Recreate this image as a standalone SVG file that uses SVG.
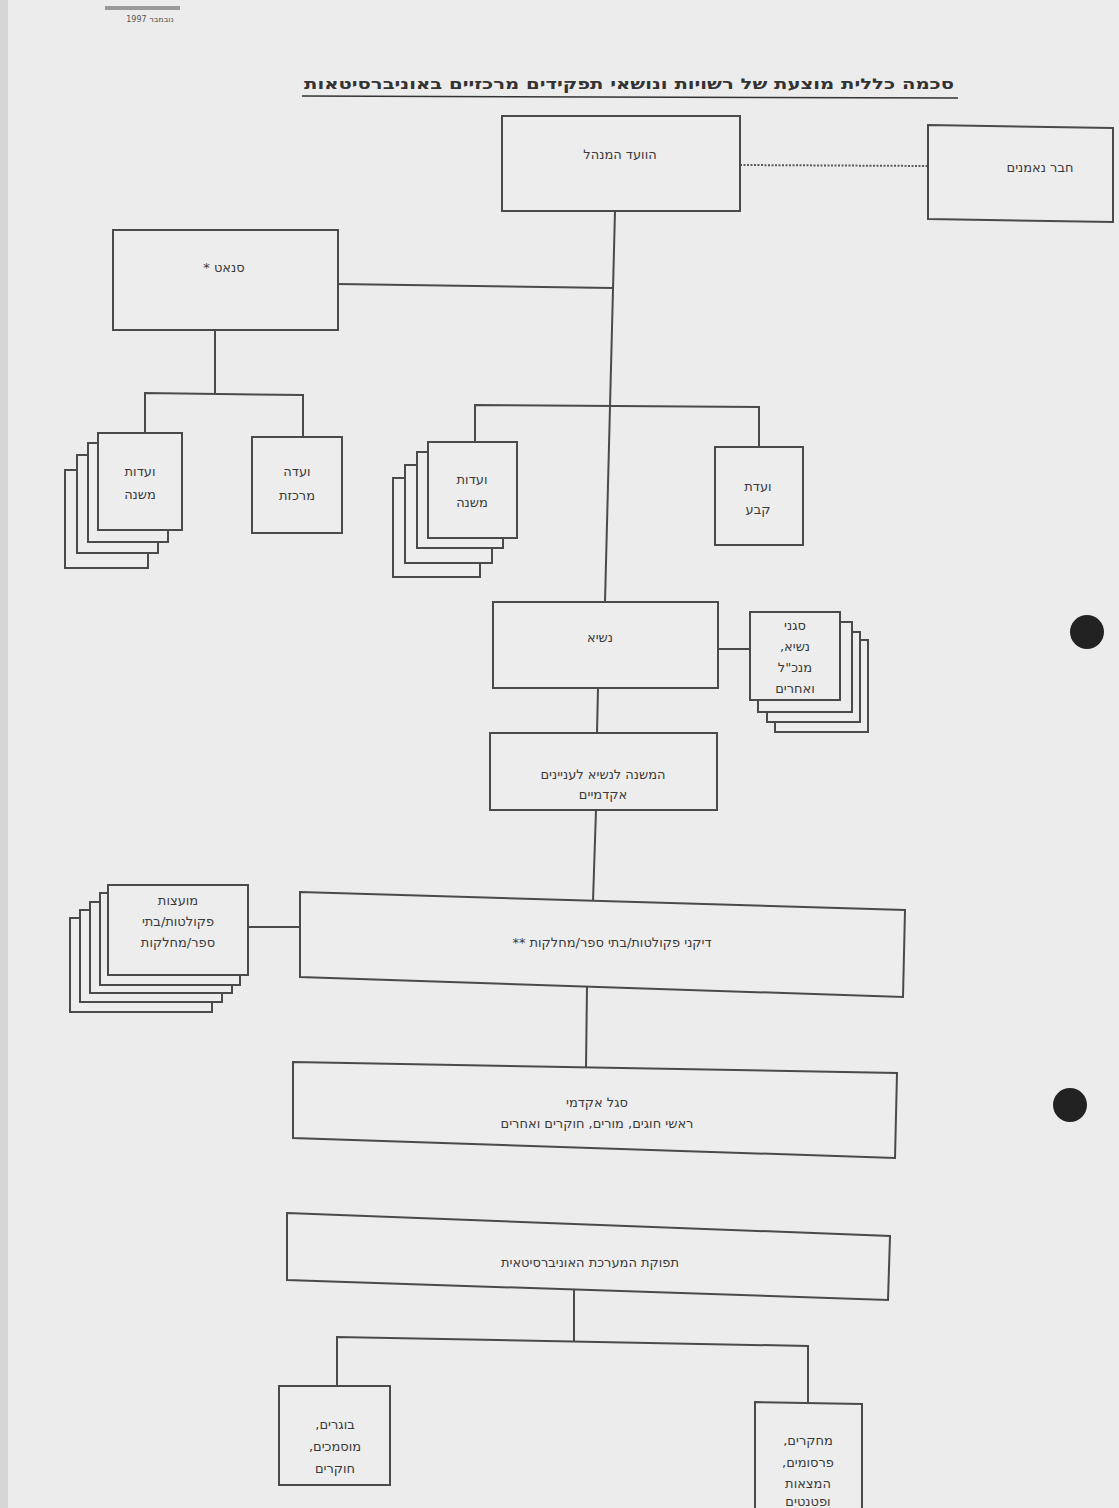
<svg xmlns="http://www.w3.org/2000/svg" width="1119" height="1508" viewBox="0 0 1119 1508">
<style>
.bx{fill:#ededed;stroke:#4a4a4a;stroke-width:2}
.ln{fill:none;stroke:#4a4a4a;stroke-width:2}
.dot{fill:none;stroke:#5a5a5a;stroke-width:2;stroke-dasharray:2 1.5}
.t{font-family:"DejaVu Sans","Liberation Sans",sans-serif;font-size:13px;fill:#3a3a3a;text-anchor:middle;direction:rtl}
.ttl{font-family:"DejaVu Sans","Liberation Sans",sans-serif;font-size:15px;font-weight:bold;fill:#333;text-anchor:middle;direction:rtl}
.sm{font-family:"DejaVu Sans","Liberation Sans",sans-serif;font-size:8px;fill:#555;text-anchor:middle;direction:rtl}
</style>
<rect x="0" y="0" width="1119" height="1508" fill="#ececec"/>
<rect x="0" y="0" width="8" height="1508" fill="#d6d6d6"/>
<g id="header">
<rect x="105" y="6" width="75" height="4" fill="#9a9a9a"/>
<text class="sm" x="150" y="22">נובמבר 1997</text>
<text class="ttl" x="629" y="89" textLength="650" lengthAdjust="spacingAndGlyphs">סכמה כללית מוצעת של רשויות ונושאי תפקידים מרכזיים באוניברסיטאות</text>
<line x1="302" y1="96" x2="958" y2="98" stroke="#333" stroke-width="1.5"/>
</g>
<g id="holes">
<circle cx="1087" cy="632" r="17" fill="#222"/>
<circle cx="1070" cy="1105" r="17" fill="#222"/>
</g>
<g id="connectors">
<line class="dot" x1="740" y1="165" x2="928" y2="166"/>
<polyline class="ln" points="615,211 605,602"/>
<line class="ln" x1="338" y1="284" x2="613" y2="288"/>
<line class="ln" x1="215" y1="330" x2="215" y2="393"/>
<polyline class="ln" points="145,433 145,393 303,395 303,437"/>
<polyline class="ln" points="475,442 475,405 759,407 759,447"/>
<line class="ln" x1="718" y1="649" x2="750" y2="649"/>
<line class="ln" x1="598" y1="688" x2="597" y2="733"/>
<line class="ln" x1="596" y1="810" x2="593" y2="901"/>
<line class="ln" x1="300" y1="927" x2="248" y2="927"/>
<line class="ln" x1="587" y1="987" x2="586" y2="1067"/>
<line class="ln" x1="574" y1="1290" x2="574" y2="1341"/>
<polyline class="ln" points="337,1386 337,1337 808,1346 808,1402"/>
</g>
<g id="board">
<rect class="bx" x="502" y="116" width="238" height="95"/>
<text class="t" x="620" y="159">הוועד המנהל</text>
</g>
<g id="trustees">
<path class="bx" d="M928,125 L1113,128 L1113,222 L928,219 Z"/>
<text class="t" x="1040" y="172">חבר נאמנים</text>
</g>
<g id="senate">
<rect class="bx" x="113" y="230" width="225" height="100"/>
<text class="t" x="224" y="272">סנאט *</text>
</g>
<g id="senate-subcommittees">
<rect class="bx" x="65" y="470" width="83" height="98"/>
<rect class="bx" x="77" y="455" width="81" height="98"/>
<rect class="bx" x="88" y="443" width="80" height="99"/>
<rect class="bx" x="98" y="433" width="84" height="97"/>
<text class="t" x="140" y="476">ועדות</text>
<text class="t" x="140" y="499">משנה</text>
</g>
<g id="coordinating-committee">
<rect class="bx" x="252" y="437" width="90" height="96"/>
<text class="t" x="297" y="476">ועדה</text>
<text class="t" x="297" y="500">מרכזת</text>
</g>
<g id="board-subcommittees">
<rect class="bx" x="393" y="478" width="87" height="99"/>
<rect class="bx" x="405" y="465" width="87" height="98"/>
<rect class="bx" x="417" y="452" width="86" height="96"/>
<rect class="bx" x="428" y="442" width="89" height="96"/>
<text class="t" x="472" y="484">ועדות</text>
<text class="t" x="472" y="507">משנה</text>
</g>
<g id="standing-committee">
<rect class="bx" x="715" y="447" width="88" height="98"/>
<text class="t" x="758" y="491">ועדת</text>
<text class="t" x="758" y="514">קבע</text>
</g>
<g id="president">
<rect class="bx" x="493" y="602" width="225" height="86"/>
<text class="t" x="600" y="642">נשיא</text>
</g>
<g id="vice-presidents">
<rect class="bx" x="775" y="640" width="93" height="92"/>
<rect class="bx" x="767" y="632" width="93" height="90"/>
<rect class="bx" x="758" y="622" width="94" height="90"/>
<rect class="bx" x="750" y="612" width="90" height="88"/>
<text class="t" x="795" y="630">סגני</text>
<text class="t" x="795" y="651">נשיא,</text>
<text class="t" x="795" y="672">מנכ"ל</text>
<text class="t" x="795" y="693">ואחרים</text>
</g>
<g id="provost">
<rect class="bx" x="490" y="733" width="227" height="77"/>
<text class="t" x="603" y="779">המשנה לנשיא לעניינים</text>
<text class="t" x="603" y="799">אקדמיים</text>
</g>
<g id="faculty-councils">
<rect class="bx" x="70" y="918" width="142" height="94"/>
<rect class="bx" x="80" y="910" width="142" height="92"/>
<rect class="bx" x="90" y="902" width="142" height="91"/>
<rect class="bx" x="100" y="893" width="140" height="92"/>
<rect class="bx" x="108" y="885" width="140" height="90"/>
<text class="t" x="178" y="905">מועצות</text>
<text class="t" x="178" y="926">פקולטות/בתי</text>
<text class="t" x="178" y="947">ספר/מחלקות</text>
</g>
<g id="deans">
<path class="bx" d="M300,892 L905,910 L903,997 L300,977 Z"/>
<text class="t" x="612" y="947">דיקני פקולטות/בתי ספר/מחלקות **</text>
</g>
<g id="academic-staff">
<path class="bx" d="M293,1062 L897,1073 L895,1158 L293,1138 Z"/>
<text class="t" x="597" y="1107">סגל אקדמי</text>
<text class="t" x="597" y="1128">ראשי חוגים, מורים, חוקרים ואחרים</text>
</g>
<g id="output">
<path class="bx" d="M287,1213 L890,1236 L888,1300 L287,1280 Z"/>
<text class="t" x="590" y="1267">תפוקת המערכת האוניברסיטאית</text>
</g>
<g id="graduates">
<rect class="bx" x="279" y="1386" width="111" height="99"/>
<text class="t" x="335" y="1429">בוגרים,</text>
<text class="t" x="335" y="1451">מוסמכים,</text>
<text class="t" x="335" y="1473">חוקרים</text>
</g>
<g id="research">
<path class="bx" d="M755,1510 L755,1402 L862,1404 L862,1510"/>
<text class="t" x="808" y="1445">מחקרים,</text>
<text class="t" x="808" y="1467">פרסומים,</text>
<text class="t" x="808" y="1488">המצאות</text>
<text class="t" x="808" y="1506">ופטנטים</text>
</g>
</svg>
